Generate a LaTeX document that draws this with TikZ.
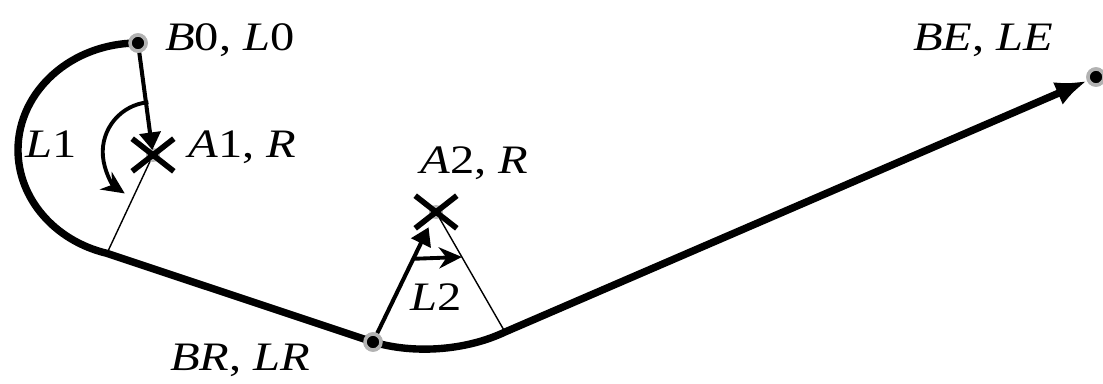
\documentclass[tikz,border=0pt]{standalone}
\usepackage{fontspec}
\setmainfont{Liberation Serif}
\usetikzlibrary{arrows.meta, calc, shapes.misc}
\newcommand{\widelab}[1]{\scalebox{1.2}[1]{#1}}
\tikzset{
  track line/.style={line width=4.2pt, line join=round, -{Latex[length=18pt, width=14pt]}},
  radius line/.style={line width=2.3pt, -{Triangle[length=10pt, width=12pt]}},
  thin line/.style={line width=0.8pt},
  turn arrow/.style={line width=2.2pt, -{Stealth[length=13pt, width=12pt]}},
  end dot/.style={circle, fill=black, draw=gray!60, line width=2pt,
    minimum size=0.32cm, inner sep=0pt},
  center cross/.style={cross out, draw=black, line width=3.2pt,
    minimum width=0.72cm, minimum height=0.54cm, inner sep=0pt},
  pt label/.style={font=\fontsize{23}{26}\selectfont, inner sep=0pt, anchor=base west}
}
\begin{document}
\begin{tikzpicture}[x=0.02cm, y=0.02cm]
  \useasboundingbox (0,0) rectangle (1103,383);
  % centres of the two turns
  \coordinate (A1) at (153,228);
  \coordinate (A2) at (436,171);
  \coordinate (C1) at (138,233);
  \coordinate (T1) at ($(C1)+(255:120 and 107)$);
  \coordinate (T2) at (505,51);
  \node (B0) [end dot] at (138,340) {};
  \node (BR) [end dot] at (373,41) {};
  \node (BE) [end dot] at (1096,306) {};

  \draw [thin line] (A1) -- (T1);
  \draw [thin line] (A2) -- (T2);
  \fill [gray!55] (A1) circle (7);
  \fill [gray!55] (A2) circle (7);

  % the track
  \draw [track line] (B0.center) arc[start angle=90, end angle=255, x radius=120, y radius=107]
    -- (BR.center) .. controls (413,29) and (465,32) .. (T2) -- (BE);

  \draw [radius line, shorten >=0.1cm] (B0) -- (A1);
  \draw [radius line, shorten >=0.34cm] (BR) -- (A2);
  \draw [turn arrow] ($(A1)+(95:53)$) arc[start angle=95, end angle=236, radius=50];
  \draw [turn arrow] ($(A2)!0.36!(BR)$) -- ($(A2)!0.375!(T2)$);

  \node (X1) [center cross] at (A1) {};
  \node (X2) [center cross] at (A2) {};
  \node [end dot] at (B0) {};
  \node [end dot] at (BR) {};
  \node [end dot] at (BE) {};

  % labels
  \node (lb0) [pt label] at (165,333) {\widelab{\textit{B}0, \textit{L}0}};
  \node (la1) [pt label] at (188,226) {\widelab{\textit{A}1, \textit{R}}};
  \node (ll1) [pt label] at (25,226) {\widelab{\textit{L}1}};
  \node (la2) [pt label] at (420,210) {\widelab{\textit{A}2, \textit{R}}};
  \node (ll2) [pt label] at (410,73) {\widelab{\textit{L}2}};
  \node (lbr) [pt label] at (170,13) {\widelab{\textit{BR}, \textit{LR}}};
  \node (lbe) [pt label] at (913,333) {\widelab{\textit{BE}, \textit{LE}}};
\end{tikzpicture}
\end{document}
